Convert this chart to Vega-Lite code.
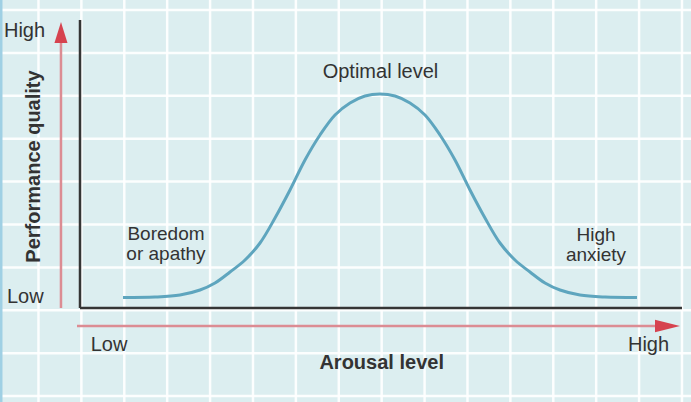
{
  "$schema": "https://vega.github.io/schema/vega-lite/v6.json",
  "autosize": {"type": "none"},
  "width": 600,
  "height": 288,
  "padding": {"left": 80, "top": 20, "right": 11, "bottom": 94},
  "background": "#dceef0",
  "config": {"view": {"stroke": null}, "text": {"font": "Liberation Sans", "fontSize": 20, "color": "#333333"}},
  "datasets": {
    "vgrid": [
      {"a": -6.92, "p": -33, "a2": -6.92, "p2": 107},
      {"a": 0.23, "p": -33, "a2": 0.23, "p2": 107},
      {"a": 7.38, "p": -33, "a2": 7.38, "p2": 107},
      {"a": 14.53, "p": -33, "a2": 14.53, "p2": 107},
      {"a": 21.68, "p": -33, "a2": 21.68, "p2": 107},
      {"a": 28.83, "p": -33, "a2": 28.83, "p2": 107},
      {"a": 35.98, "p": -33, "a2": 35.98, "p2": 107},
      {"a": 43.13, "p": -33, "a2": 43.13, "p2": 107},
      {"a": 50.28, "p": -33, "a2": 50.28, "p2": 107},
      {"a": 57.43, "p": -33, "a2": 57.43, "p2": 107},
      {"a": 64.58, "p": -33, "a2": 64.58, "p2": 107},
      {"a": 71.73, "p": -33, "a2": 71.73, "p2": 107},
      {"a": 78.88, "p": -33, "a2": 78.88, "p2": 107},
      {"a": 86.03, "p": -33, "a2": 86.03, "p2": 107},
      {"a": 93.18, "p": -33, "a2": 93.18, "p2": 107},
      {"a": 100.33, "p": -33, "a2": 100.33, "p2": 107}
    ],
    "hgrid": [
      {"a": -14, "p": 103.47, "a2": 102, "p2": 103.47},
      {"a": -14, "p": 88.58, "a2": 102, "p2": 88.58},
      {"a": -14, "p": 73.68, "a2": 102, "p2": 73.68},
      {"a": -14, "p": 58.78, "a2": 102, "p2": 58.78},
      {"a": -14, "p": 43.89, "a2": 102, "p2": 43.89},
      {"a": -14, "p": 28.99, "a2": 102, "p2": 28.99},
      {"a": -14, "p": 14.10, "a2": 102, "p2": 14.10},
      {"a": -14, "p": -0.80, "a2": 102, "p2": -0.80},
      {"a": -14, "p": -15.69, "a2": 102, "p2": -15.69},
      {"a": -14, "p": -30.59, "a2": 102, "p2": -30.59}
    ],
    "edges": [
      {"a": -13.17, "p": -33, "a2": -13.17, "p2": 107}
    ],
    "axes": [
      {"a": 0, "p": 0, "a2": 0, "p2": 100},
      {"a": 0, "p": 0, "a2": 100.33, "p2": 0}
    ],
    "shafts": [
      {"a": -3.17, "p": 0, "a2": -3.17, "p2": 93},
      {"a": -0.5, "p": -6.25, "a2": 96, "p2": -6.25}
    ],
    "headUp": [{"a": -3.17, "p": 95.66}],
    "headRight": [{"a": 97.92, "p": -6.25}],
    "curve": [
      {"a": 7.17, "p": 3.65},
      {"a": 12.5, "p": 3.82},
      {"a": 16.67, "p": 4.51},
      {"a": 20, "p": 6.25},
      {"a": 22.5, "p": 8.68},
      {"a": 25, "p": 12.5},
      {"a": 27.5, "p": 16.67},
      {"a": 30, "p": 22.57},
      {"a": 32.5, "p": 31.25},
      {"a": 35, "p": 40.97},
      {"a": 37.5, "p": 51.39},
      {"a": 40, "p": 60.07},
      {"a": 42.5, "p": 67.01},
      {"a": 45, "p": 71.18},
      {"a": 47.5, "p": 73.61},
      {"a": 50, "p": 74.31},
      {"a": 52.5, "p": 73.61},
      {"a": 55, "p": 71.18},
      {"a": 57.5, "p": 67.01},
      {"a": 60, "p": 60.07},
      {"a": 62.5, "p": 51.39},
      {"a": 65, "p": 40.97},
      {"a": 67.5, "p": 31.25},
      {"a": 70, "p": 22.57},
      {"a": 72.5, "p": 16.67},
      {"a": 75, "p": 12.5},
      {"a": 77.5, "p": 8.68},
      {"a": 80, "p": 6.25},
      {"a": 83.33, "p": 4.51},
      {"a": 87.5, "p": 3.82},
      {"a": 92.83, "p": 3.65}
    ],
    "leftText": [
      {"a": -12.67, "p": 94.1, "label": "High"},
      {"a": -12.17, "p": 1.74, "label": "Low"},
      {"a": 1.78, "p": -14.93, "label": "Low"},
      {"a": 91.33, "p": -14.76, "label": "High"}
    ],
    "centerText": [
      {"a": 50.08, "p": 79.76, "label": ["Optimal level"]}
    ],
    "sideText": [
      {"a": 14.33, "p": 23.6, "label": ["Boredom", "or apathy"]},
      {"a": 86.0, "p": 23.3, "label": ["High", "anxiety"]}
    ],
    "xTitle": [{"a": 50.28, "p": -21.28, "label": "Arousal level"}],
    "yTitle": [{"a": -6.75, "p": 49.13, "label": "Performance quality"}]
  },
  "encoding": {
    "x": {"field": "a", "type": "quantitative", "scale": {"domain": [0, 100], "nice": false, "zero": false}, "axis": null},
    "y": {"field": "p", "type": "quantitative", "scale": {"domain": [0, 100], "nice": false, "zero": false}, "axis": null}
  },
  "layer": [
    {"data": {"name": "vgrid"}, "mark": {"type": "rule", "color": "#ffffff", "strokeWidth": 2.5, "opacity": 0.9},
     "encoding": {"x2": {"field": "a2"}, "y2": {"field": "p2"}}},
    {"data": {"name": "hgrid"}, "mark": {"type": "rule", "color": "#ffffff", "strokeWidth": 2.5, "opacity": 0.9},
     "encoding": {"x2": {"field": "a2"}, "y2": {"field": "p2"}}},
    {"data": {"name": "edges"}, "mark": {"type": "rule", "color": "#9fd0e4", "strokeWidth": 3},
     "encoding": {"x2": {"field": "a2"}, "y2": {"field": "p2"}}},
    {"data": {"name": "shafts"}, "mark": {"type": "rule", "color": "#dc8c93", "strokeWidth": 2.5},
     "encoding": {"x2": {"field": "a2"}, "y2": {"field": "p2"}}},
    {"data": {"name": "axes"}, "mark": {"type": "rule", "color": "#353535", "strokeWidth": 2.5},
     "encoding": {"x2": {"field": "a2"}, "y2": {"field": "p2"}}},
    {"data": {"name": "headUp"}, "mark": {"type": "point", "filled": true, "opacity": 1, "color": "#d6434f", "shape": "M0,-1L0.62,1L-0.62,1Z", "size": 441}},
    {"data": {"name": "headRight"}, "mark": {"type": "point", "filled": true, "opacity": 1, "color": "#d6434f", "shape": "M1,0L-1,0.5L-1,-0.5Z", "size": 625}},
    {"data": {"name": "curve"}, "mark": {"type": "line", "color": "#5ea5be", "strokeWidth": 3, "interpolate": "catmull-rom"}},
    {"data": {"name": "leftText"}, "mark": {"type": "text", "align": "left", "baseline": "alphabetic"},
     "encoding": {"text": {"field": "label"}}},
    {"data": {"name": "centerText"}, "mark": {"type": "text", "align": "center", "baseline": "alphabetic"},
     "encoding": {"text": {"field": "label"}}},
    {"data": {"name": "sideText"}, "mark": {"type": "text", "align": "center", "baseline": "alphabetic", "fontSize": 19, "lineHeight": 20},
     "encoding": {"text": {"field": "label"}}},
    {"data": {"name": "xTitle"}, "mark": {"type": "text", "align": "center", "baseline": "alphabetic", "fontWeight": "bold"},
     "encoding": {"text": {"field": "label"}}},
    {"data": {"name": "yTitle"}, "mark": {"type": "text", "align": "center", "baseline": "alphabetic", "fontWeight": "bold", "angle": 270},
     "encoding": {"text": {"field": "label"}}}
  ]
}
